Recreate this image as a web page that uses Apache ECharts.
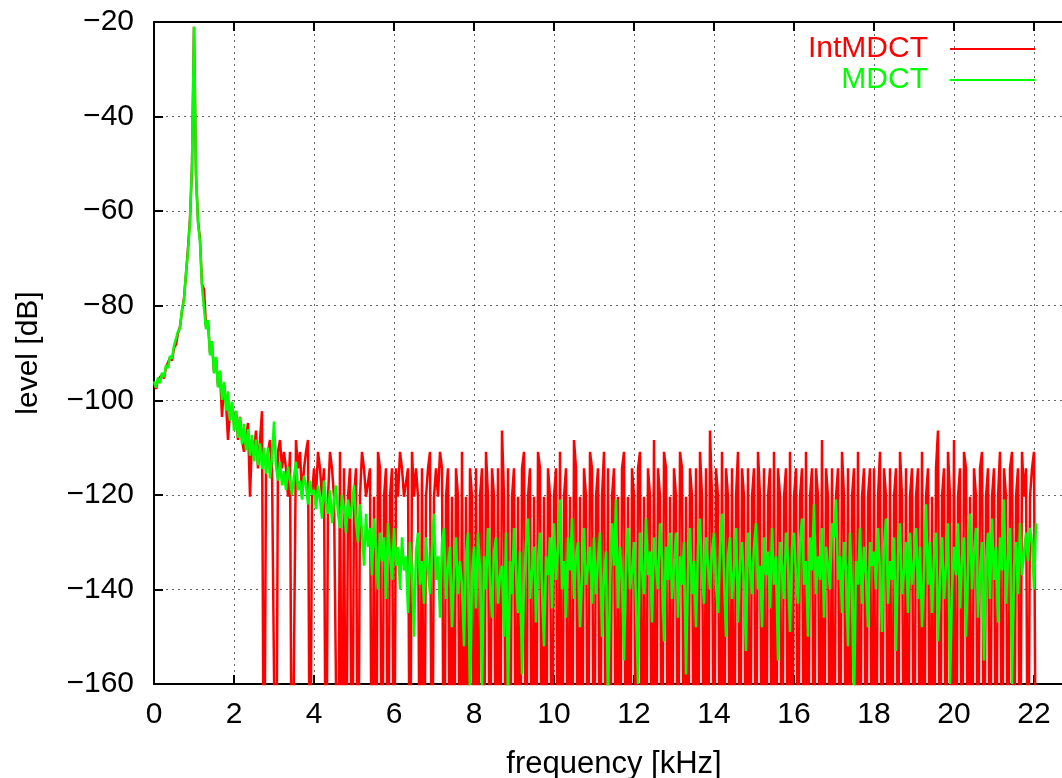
<!DOCTYPE html>
<html>
<head>
    <meta charset="utf-8">
    <title>IntMDCT / MDCT</title>
    <style>
        html, body { margin: 0; padding: 0; background: #fff; }
        #chart { width: 1062px; height: 778px; }
    </style>
</head>
<body>
<div id="chart"></div>
<script src="https://cdn.jsdelivr.net/npm/echarts/dist/echarts.min.js"></script>
<script type="text/javascript">
    // spacing of the points along the frequency axis (kHz)
    var freqStep = 0.05;

    // MDCT level [dB], 0 .. 2.95 kHz (peak around 1 kHz)
    var mdctLow = [
        -96, -97.3, -95.2, -96.4, -94.2, -95.1, -92.6, -93.2, -90.6, -91.2, -88.5, -88.6, -85.4, -84.8, -80.7, -78.8, -73, -68.5, -62, -50,
        -21, -52, -62.5, -66.5, -76, -76, -85, -83, -90.5, -87.5, -94.3, -90.8, -97.3, -93.7, -99.9, -96.1, -102.2, -98.1, -104.3, -100.3,
        -106.5, -102.2, -107.9, -103.6, -109.3, -105, -110.6, -106.1, -111.7, -107.3, -112.9, -108.3, -113.7, -109.1, -114.5, -110, -115.5, -110, -116.5, -112
    ];

    // MDCT level [dB], 3.0 .. 22.05 kHz, one row per kHz
    var mdctHigh = [
        -104.5, -114, -117, -113, -118, -115, -119, -114, -117, -120, -116, -113, -119, -117, -121, -116, -118, -122, -117, -120,
        -119, -123, -118, -121, -125, -117, -122, -124, -119, -126, -121, -118, -124, -127, -120, -123, -128, -121, -125, -122,
        -118, -126, -130, -122, -128, -135, -124, -131, -127, -137, -125, -132, -140, -128, -134, -129, -142, -126, -133, -138,
        -127, -135, -131, -140, -129, -136, -133, -145, -130, -137, -150, -132, -128, -139, -134, -143, -129, -136, -141, -131,
        -124, -138, -133, -146, -130, -127, -142, -135, -131, -148, -136, -129, -141, -134, -139, -152, -133, -128, -165, -137,
        -131, -144, -128, -136, -162, -133, -140, -127, -138, -146, -132, -129, -143, -137, -135, -150, -128, -165, -134, -141,
        -127, -136, -145, -132, -158, -139, -130, -125, -142, -136, -131, -147, -134, -128, -140, -152, -133, -137, -129, -144,
        -126, -138, -131, -121, -140, -134, -146, -129, -136, -125, -142, -133, -130, -148, -137, -127, -139, -135, -131, -143,
        -129, -141, -134, -128, -150, -137, -132, -165, -139, -126, -135, -121, -144, -131, -138, -155, -133, -127, -140, -136,
        -130, -143, -160, -128, -136, -141, -125, -137, -132, -147, -129, -135, -140, -126, -134, -151, -131, -138, -128, -142,
        -135, -128, -146, -133, -139, -130, -158, -136, -127, -141, -134, -148, -131, -125, -137, -143, -129, -135, -140, -132,
        -128, -139, -145, -131, -124, -137, -150, -133, -129, -142, -136, -127, -147, -134, -130, -139, -153, -128, -135, -141,
        -131, -126, -140, -135, -148, -129, -137, -132, -144, -127, -139, -133, -155, -130, -136, -142, -128, -134, -149, -131,
        -128, -137, -143, -130, -125, -139, -134, -150, -129, -136, -122, -141, -133, -138, -127, -146, -131, -135, -140, -126,
        -129, -121, -138, -133, -145, -130, -136, -152, -128, -141, -165, -134, -139, -127, -143, -131, -137, -148, -130, -135,
        -132, -140, -127, -136, -149, -131, -125, -143, -134, -138, -129, -153, -133, -126, -141, -136, -130, -145, -128, -139,
        -134, -127, -142, -131, -148, -136, -122, -139, -130, -145, -133, -128, -151, -137, -129, -142, -135, -126, -160, -140,
        -131, -137, -126, -144, -133, -129, -150, -135, -124, -140, -132, -127, -146, -136, -130, -155, -134, -128, -142, -125,
        -138, -131, -147, -129, -136, -121, -143, -133, -127, -160, -135, -130, -141, -126, -137, -132, -128, -134, -127, -130,
        -140, -126
    ];

    // IntMDCT level [dB], 0 .. 2.95 kHz
    var intMdctLow = [
        -96.4, -97.6, -95.6, -96, -94.6, -95.4, -93, -92.8, -91, -91.6, -88.9, -88.2, -85.8, -84.4, -81.1, -78.4, -73.3, -67.8, -61.5, -50.5,
        -21, -52.5, -62, -66, -75.5, -76.5, -84.5, -83.5, -90, -88, -94, -91, -97, -94, -103.5, -96.5, -100.4, -108.4, -102.3, -101.3,
        -104.8, -102.3, -108.4, -103.5, -108.4, -110.9, -110.9, -104.8, -120.4, -108.4, -110.9, -106.4, -114.4, -108.4, -102.3, -200, -114.4, -110.9, -108.4, -114.4
    ];

    // IntMDCT level [dB], 3.0 .. 22.05 kHz (quantised steps, -200 = zero coefficient)
    var intMdctHigh = [
        -114.4, -200, -110.9, -108.4, -114.4, -110.9, -114.4, -120.4, -110.9, -200, -200, -108.4, -114.4, -110.9, -120.4, -114.4, -110.9, -108.4, -200, -120.4,
        -114.4, -120.4, -110.9, -114.4, -120.4, -114.4, -200, -120.4, -110.9, -114.4, -120.4, -120.4, -200, -110.9, -200, -114.4, -200, -120.4, -114.4, -200,
        -120.4, -114.4, -200, -120.4, -110.9, -114.4, -120.4, -120.4, -114.4, -200, -120.4, -200, -110.9, -114.4, -200, -120.4, -114.4, -200, -120.4, -114.4,
        -200, -114.4, -120.4, -110.9, -114.4, -120.4, -120.4, -114.4, -200, -110.9, -120.4, -114.4, -120.4, -200, -114.4, -200, -120.4, -114.4, -110.9, -200,
        -120.4, -114.4, -120.4, -110.9, -114.4, -200, -120.4, -114.4, -200, -120.4, -200, -114.4, -120.4, -200, -110.9, -200, -120.4, -200, -114.4, -120.4,
        -200, -114.4, -200, -120.4, -114.4, -200, -110.9, -120.4, -200, -114.4, -120.4, -200, -114.4, -200, -106.4, -120.4, -200, -114.4, -200, -120.4,
        -114.4, -200, -120.4, -200, -114.4, -110.9, -200, -120.4, -114.4, -200, -120.4, -200, -110.9, -114.4, -200, -120.4, -200, -114.4, -120.4, -200,
        -120.4, -114.4, -200, -110.9, -200, -120.4, -114.4, -200, -120.4, -200, -108.4, -114.4, -200, -120.4, -200, -114.4, -120.4, -200, -110.9, -114.4,
        -200, -120.4, -114.4, -200, -120.4, -110.9, -200, -114.4, -200, -120.4, -114.4, -200, -120.4, -200, -114.4, -110.9, -200, -120.4, -200, -114.4,
        -120.4, -200, -114.4, -110.9, -200, -120.4, -200, -114.4, -120.4, -200, -108.4, -200, -114.4, -120.4, -200, -110.9, -114.4, -200, -120.4, -200,
        -114.4, -120.4, -200, -110.9, -114.4, -200, -120.4, -200, -114.4, -120.4, -200, -114.4, -200, -110.9, -120.4, -200, -114.4, -200, -106.4, -120.4,
        -200, -114.4, -120.4, -200, -110.9, -200, -114.4, -120.4, -200, -114.4, -200, -120.4, -110.9, -200, -114.4, -120.4, -200, -114.4, -200, -120.4,
        -114.4, -200, -110.9, -120.4, -200, -114.4, -200, -120.4, -114.4, -200, -110.9, -200, -114.4, -120.4, -200, -120.4, -114.4, -200, -110.9, -200,
        -120.4, -114.4, -200, -120.4, -114.4, -200, -110.9, -200, -120.4, -114.4, -200, -114.4, -120.4, -200, -108.4, -200, -114.4, -120.4, -200, -114.4,
        -200, -120.4, -114.4, -200, -110.9, -120.4, -200, -114.4, -200, -120.4, -114.4, -200, -110.9, -200, -120.4, -114.4, -200, -120.4, -114.4, -200,
        -114.4, -200, -120.4, -110.9, -200, -114.4, -120.4, -200, -114.4, -200, -120.4, -114.4, -200, -110.9, -120.4, -200, -114.4, -200, -120.4, -114.4,
        -200, -120.4, -114.4, -200, -110.9, -200, -120.4, -114.4, -200, -120.4, -200, -114.4, -106.4, -200, -120.4, -114.4, -200, -110.9, -120.4, -200,
        -108.4, -200, -120.4, -114.4, -200, -110.9, -114.4, -200, -120.4, -200, -114.4, -120.4, -200, -114.4, -110.9, -200, -120.4, -114.4, -200, -120.4,
        -114.4, -200, -120.4, -110.9, -200, -114.4, -120.4, -200, -114.4, -110.9, -200, -120.4, -114.4, -200, -110.9, -120.4, -114.4, -200, -120.4, -114.4,
        -110.9, -200
    ];

    var xTicks = [0, 2, 4, 6, 8, 10, 12, 14, 16, 18, 20, 22];

    var fontName = 'Liberation Sans';

    // [frequency, level] pairs for a series
    function toPoints(low, high) {
        return low.concat(high).map(function (v, i) {
            return [+(i * freqStep).toFixed(2), v];
        });
    }

    var tickStyle = { show: true, inside: true, length: 9, lineStyle: { color: '#000', width: 2 } };
    var borderStyle = { show: true, onZero: false, lineStyle: { color: '#000', width: 2 } };
    var gridLine = { show: true, lineStyle: { type: [2, 4], color: '#666', width: 1 } };

    var myChart = echarts.init(document.getElementById('chart'));
    myChart.setOption({
        animation: false,
        backgroundColor: '#fff',
        textStyle: { fontFamily: fontName },
        // plot box is fixed; its right edge runs past the canvas like the original
        grid: { left: 154, top: 22, right: -12, bottom: 94, containLabel: false, outerBoundsMode: 'none' },
        legend: {
            orient: 'vertical',
            right: 22,
            top: 29,
            align: 'right',
            icon: 'rect',
            itemWidth: 85,
            itemHeight: 2,
            itemGap: 1,
            selectedMode: false,
            textStyle: { fontFamily: fontName, fontSize: 30, padding: [0, 17, 0, 0] },
            data: [
                { name: 'IntMDCT', textStyle: { color: '#ff0000' } },
                { name: 'MDCT', textStyle: { color: '#00ff00' } }
            ]
        },
        xAxis: [{
            type: 'value',
            position: 'bottom',
            min: 0,
            max: 23,
            interval: 2,
            name: 'frequency [kHz]',
            nameLocation: 'middle',
            nameGap: 65,
            nameTextStyle: { fontFamily: fontName, fontSize: 31, color: '#000' },
            axisLine: borderStyle,
            axisTick: tickStyle,
            axisLabel: {
                margin: 16, fontSize: 30, color: '#000', fontFamily: fontName,
                formatter: function (v) { return xTicks.indexOf(v) >= 0 ? String(v) : ''; }
            },
            splitLine: gridLine
        }, {
            type: 'value',
            position: 'top',
            min: 0,
            max: 23,
            interval: 2,
            axisLine: borderStyle,
            axisTick: tickStyle,
            axisLabel: { show: false },
            splitLine: { show: false }
        }],
        yAxis: {
            type: 'value',
            min: -160,
            max: -20,
            interval: 20,
            name: 'level [dB]',
            nameLocation: 'middle',
            nameGap: 110,
            nameTextStyle: { fontFamily: fontName, fontSize: 30, color: '#000' },
            axisLine: borderStyle,
            axisTick: tickStyle,
            axisLabel: {
                margin: 20, fontSize: 30, color: '#000', fontFamily: fontName,
                formatter: function (v) { return String(v).replace('-', '\u2212'); }
            },
            splitLine: gridLine
        },
        series: [{
            name: 'IntMDCT',
            type: 'line',
            symbol: 'none',
            data: toPoints(intMdctLow, intMdctHigh),
            itemStyle: { color: '#ff0000' },
            lineStyle: { color: '#ff0000', width: 2.5 },
            z: 2
        }, {
            name: 'MDCT',
            type: 'line',
            symbol: 'none',
            data: toPoints(mdctLow, mdctHigh),
            itemStyle: { color: '#00ff00' },
            lineStyle: { color: '#00ff00', width: 2.5 },
            z: 3
        }]
    });
</script>
</body>
</html>
